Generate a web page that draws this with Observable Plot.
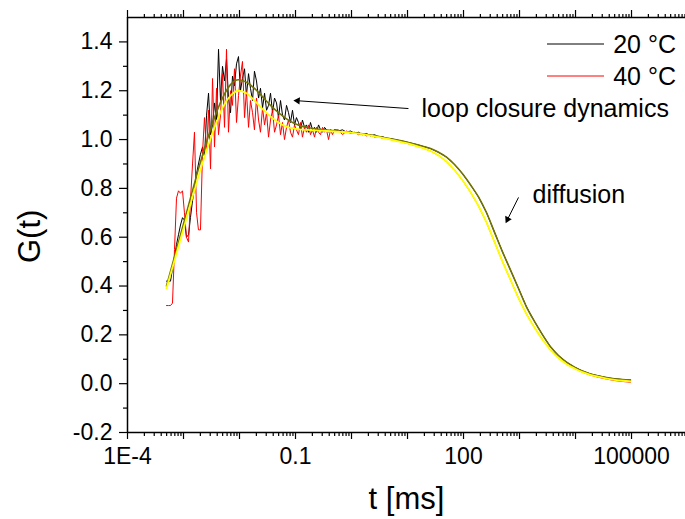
<!DOCTYPE html>
<html><head><meta charset="utf-8">
<script src="https://cdn.jsdelivr.net/npm/d3@7"></script>
<script src="https://cdn.jsdelivr.net/npm/@observablehq/plot@0.6"></script>
<style>body{margin:0;background:#fff;} #chart{width:685px;height:519px;}</style>
</head><body><div id="chart"></div>
<script>
// ---- data (t in ms, G(t)) ----
const tData = [
0.000497,0.000540,0.000586,0.000636,0.000691,0.000750,0.000814,0.000884,0.000960,0.00104,0.00113,0.00123,0.00133,0.00145,0.00157,0.00171,0.00185,0.00201,0.00219,0.00237,0.00258,0.00280,0.00304,0.00330,0.00358,0.00389,0.00422,0.00458,
0.00497,0.00540,0.00586,0.00636,0.00691,0.00750,0.00814,0.00884,0.00960,0.0104,0.0113,0.0123,0.0133,0.0145,0.0157,0.0171,0.0185,0.0201,0.0219,0.0237,0.0258,0.0280,0.0304,0.0330,0.0358,0.0389,0.0422,0.0458,
0.0497,0.0540,0.0586,0.0636,0.0691,0.0750,0.0814,0.0884,0.0960,0.104,0.113,0.123,0.133,0.145,0.157,0.171,0.185,0.201,0.219,0.237,0.258,0.280,0.304,0.330,0.358,0.389,0.422,0.458,
0.497,
0.586,0.691,0.814,0.960,1.13,1.33,1.57,1.85,2.19,2.58,3.04,3.58,4.22,4.97,
6.91,9.60,13.3,18.5,25.8,35.8,49.7,69.1,96.0,133,185,258,358,497,691,960,1330,1850,2580,3580,4970,6910,9600,13300,18500,25800,35800,49700,69100,96000];
const g20 = [
0.42,0.42,0.42,0.47,0.52,0.57,0.61,0.65,0.68,0.67,
0.60,0.61,0.68,0.75,0.80,0.86,0.90,0.94,0.97,0.93,
1.10,1.19,1.02,1.06,1.15,1.08,1.37,1.16,1.30,1.24,
1.33,1.17,1.11,1.26,1.22,1.31,1.34,1.20,1.25,1.29,
1.18,1.27,1.21,1.16,1.28,1.24,1.17,1.21,1.13,1.19,
1.12,1.14,1.19,1.11,1.17,1.15,1.09,1.16,1.10,1.08,
1.14,1.11,1.07,1.12,1.06,1.09,1.07,1.04,1.08,1.05,
1.06,1.03,1.07,1.04,1.05,1.03,1.06,1.04,1.03,1.05,
1.04,1.03,1.04,1.035,1.04,
1.035,1.04,1.03,1.035,1.025,1.03,1.02,1.025,1.015,1.02,1.01,1.012,1.005,1.004,
0.997,0.99,0.982,0.973,0.963,0.948,0.928,0.898,0.86,0.815,0.765,0.70,0.62,0.54,0.465,0.39,0.315,0.255,0.20,0.151,0.115,0.088,0.068,0.052,0.040,0.032,0.025,0.020,0.017,0.015];
const g40 = [
0.32,0.32,0.32,0.33,0.55,0.76,0.79,0.78,0.79,0.70,
0.60,0.58,0.75,0.90,1.03,0.70,0.63,0.63,0.95,1.09,
0.95,1.12,0.88,1.25,0.97,1.21,1.02,1.10,1.27,1.05,
1.37,1.03,1.20,1.14,1.29,1.07,1.18,1.26,1.32,1.09,
1.20,1.05,1.16,1.11,1.04,1.17,1.08,1.03,1.13,1.06,
1.11,1.01,1.08,1.12,1.03,1.06,1.10,1.02,1.07,1.00,
1.05,1.08,1.03,1.01,1.06,1.04,1.02,1.07,1.01,1.05,
1.03,1.06,1.02,1.04,1.01,1.05,1.03,1.02,1.05,1.03,
1.04,1.00,1.04,1.02,1.04,
1.04,1.02,1.035,1.025,1.03,1.02,1.025,1.015,1.02,1.01,1.012,1.005,1.006,1.0,
0.993,0.985,0.976,0.966,0.953,0.935,0.91,0.875,0.833,0.785,0.728,0.66,0.58,0.50,0.425,0.35,0.285,0.23,0.18,0.138,0.105,0.08,0.062,0.047,0.035,0.026,0.019,0.013,0.009,0.006];
const tFit = [
0.000497,0.000691,0.000960,0.00133,0.00185,0.00258,0.00358,0.00497,0.00691,0.00960,0.0133,0.0185,0.0258,0.0358,0.0497,0.0691,0.0960,0.133,0.185,0.258,0.358,0.497,0.691,0.960,1.33,1.85,2.58,3.58,4.97,
6.91,9.60,13.3,18.5,25.8,35.8,49.7,69.1,96.0,133,185,258,358,497,691,960,1330,1850,2580,3580,4970,6910,9600,13300,18500,25800,35800,49700,69100,96000];
const fit20 = [
0.40,0.52,0.64,0.76,0.88,0.99,1.09,1.17,1.225,1.245,1.235,1.21,1.175,1.14,1.11,1.085,1.066,1.054,1.047,1.042,1.039,1.036,1.033,1.03,1.026,1.021,1.016,1.009,1.003,
0.997,0.99,0.982,0.973,0.963,0.948,0.928,0.898,0.86,0.815,0.765,0.70,0.62,0.54,0.465,0.39,0.315,0.255,0.20,0.151,0.115,0.088,0.068,0.052,0.040,0.032,0.025,0.020,0.017,0.015];
const fit40 = [
0.39,0.505,0.62,0.735,0.85,0.955,1.05,1.13,1.18,1.20,1.19,1.16,1.125,1.095,1.07,1.053,1.045,1.041,1.039,1.037,1.035,1.033,1.031,1.028,1.024,1.019,1.013,1.007,1.0,
0.993,0.985,0.976,0.966,0.953,0.935,0.91,0.875,0.833,0.785,0.728,0.66,0.58,0.50,0.425,0.35,0.285,0.23,0.18,0.138,0.105,0.08,0.062,0.047,0.036,0.028,0.021,0.016,0.012,0.009];
const seriesNames = ["20 °C", "40 °C"];
const xTickValues = [1e-4, 0.1, 100, 1e5];
const xTickLabels = ["1E-4", "0.1", "100", "100000"];
const yTickValues = [-0.2, 0, 0.2, 0.4, 0.6, 0.8, 1.0, 1.2, 1.4];
const annotations = [
  {t: 17.8, g: 1.127, text: "loop closure dynamics"},
  {t: 1706, g: 0.771, text: "diffusion"}
];
const arrows = [
  {t1: 10.4, g1: 1.127, t2: 0.109, g2: 1.159, rot: -86},
  {t1: 960, g1: 0.763, t2: 611, g2: 0.673, rot: 206.6}
];

// ---- build ----
const font = "'Liberation Sans', Arial, Helvetica, sans-serif";
const d20 = tData.map((t, i) => ({t, g: g20[i]}));
const d40 = tData.map((t, i) => ({t, g: g40[i]}));
const f20 = tFit.map((t, i) => ({t, g: fit20[i]}));
const f40 = tFit.map((t, i) => ({t, g: fit40[i]}));
const xMax = 9.2e5;
const decades = [1e-4, 1e-3, 1e-2, 1e-1, 1, 10, 100, 1e3, 1e4, 1e5];
const minorX = [];
for (const d of decades) for (let m = 2; m <= 9; m++) { const v = m * d; if (v <= xMax) minorX.push(v); }
const minorY = [-0.1, 0.1, 0.3, 0.5, 0.7, 0.9, 1.1, 1.3];
const xLabel = d => {
  const i = xTickValues.findIndex(v => Math.abs(Math.log10(v) - Math.log10(d)) < 1e-6);
  return i >= 0 ? xTickLabels[i] : "";
};

const svg = Plot.plot({
  width: 685, height: 519,
  marginLeft: 127, marginRight: 0, marginTop: 17, marginBottom: 87,
  style: {fontFamily: font, background: "white", color: "black", overflow: "visible"},
  x: {type: "log", domain: [1e-4, xMax]},
  y: {domain: [-0.2, 1.5]},
  marks: [
    Plot.line(d20, {x: "t", y: "g", stroke: "#000000", strokeWidth: 1}),
    Plot.line(d40, {x: "t", y: "g", stroke: "#ff0000", strokeWidth: 1}),
    Plot.line(f20, {x: "t", y: "g", stroke: "#737300", strokeWidth: 1.6, curve: "monotone-x"}),
    Plot.line(f40, {x: "t", y: "g", stroke: "#ffff00", strokeWidth: 1.8, curve: "monotone-x"}),
    Plot.ruleX([1e-4], {stroke: "black", strokeWidth: 1.5}),
    Plot.ruleY([-0.2], {stroke: "black", strokeWidth: 1.5}),
    Plot.ruleY([1.5], {stroke: "black", strokeWidth: 1.5}),
    Plot.axisY({ticks: yTickValues, tickSize: 8, tickPadding: 7, tickFormat: d => d.toFixed(1), fontSize: 23, label: null, strokeWidth: 1.2}),
    Plot.axisY({ticks: minorY, tickSize: 4, tickFormat: () => "", label: null, strokeWidth: 1.2}),
    Plot.axisX({ticks: decades, tickSize: 7, tickPadding: 8, tickFormat: xLabel, fontSize: 23, label: null, strokeWidth: 1.2}),
    Plot.axisX({ticks: minorX, tickSize: 4, tickFormat: () => "", label: null, strokeWidth: 1.2}),
    Plot.axisX({anchor: "top", ticks: decades, tickSize: 8, tickFormat: () => "", label: null, strokeWidth: 1.2}),
    Plot.axisX({anchor: "top", ticks: minorX, tickSize: 4, tickFormat: () => "", label: null, strokeWidth: 1.2}),
    Plot.link(arrows, {x1: "t1", y1: "g1", x2: "t2", y2: "g2", stroke: "black", strokeWidth: 1}),
    Plot.dot(arrows, {x: "t2", y: "g2", symbol: "triangle2", r: 3.5, fill: "black", stroke: "none", rotate: "rot"}),
    Plot.text(annotations, {x: "t", y: "g", text: "text", textAnchor: "start", fontSize: 25, fill: "black"}),
    Plot.text(["t [ms]"], {frameAnchor: "bottom", lineAnchor: "middle", dy: 67, fontSize: 31, fill: "black"}),
    Plot.text(["G(t)"], {frameAnchor: "left", lineAnchor: "middle", rotate: -90, dx: -97, dy: 38, fontSize: 31, fill: "black"})
  ]
});
document.getElementById("chart").appendChild(svg);

// legend (top-right, inside the frame)
const sel = d3.select(svg);
const lg = sel.append("g").attr("font-family", font).attr("font-size", 25);
const legendColors = ["#000000", "#ff0000"];
seriesNames.forEach((name, i) => {
  const y = 44 + i * 32;
  lg.append("line").attr("x1", 547).attr("x2", 604).attr("y1", y).attr("y2", y)
    .attr("stroke", legendColors[i]).attr("stroke-width", 1);
  lg.append("text").attr("x", 676).attr("y", y + 9).attr("text-anchor", "end").attr("fill", "black").text(name);
});
</script>
</body></html>
